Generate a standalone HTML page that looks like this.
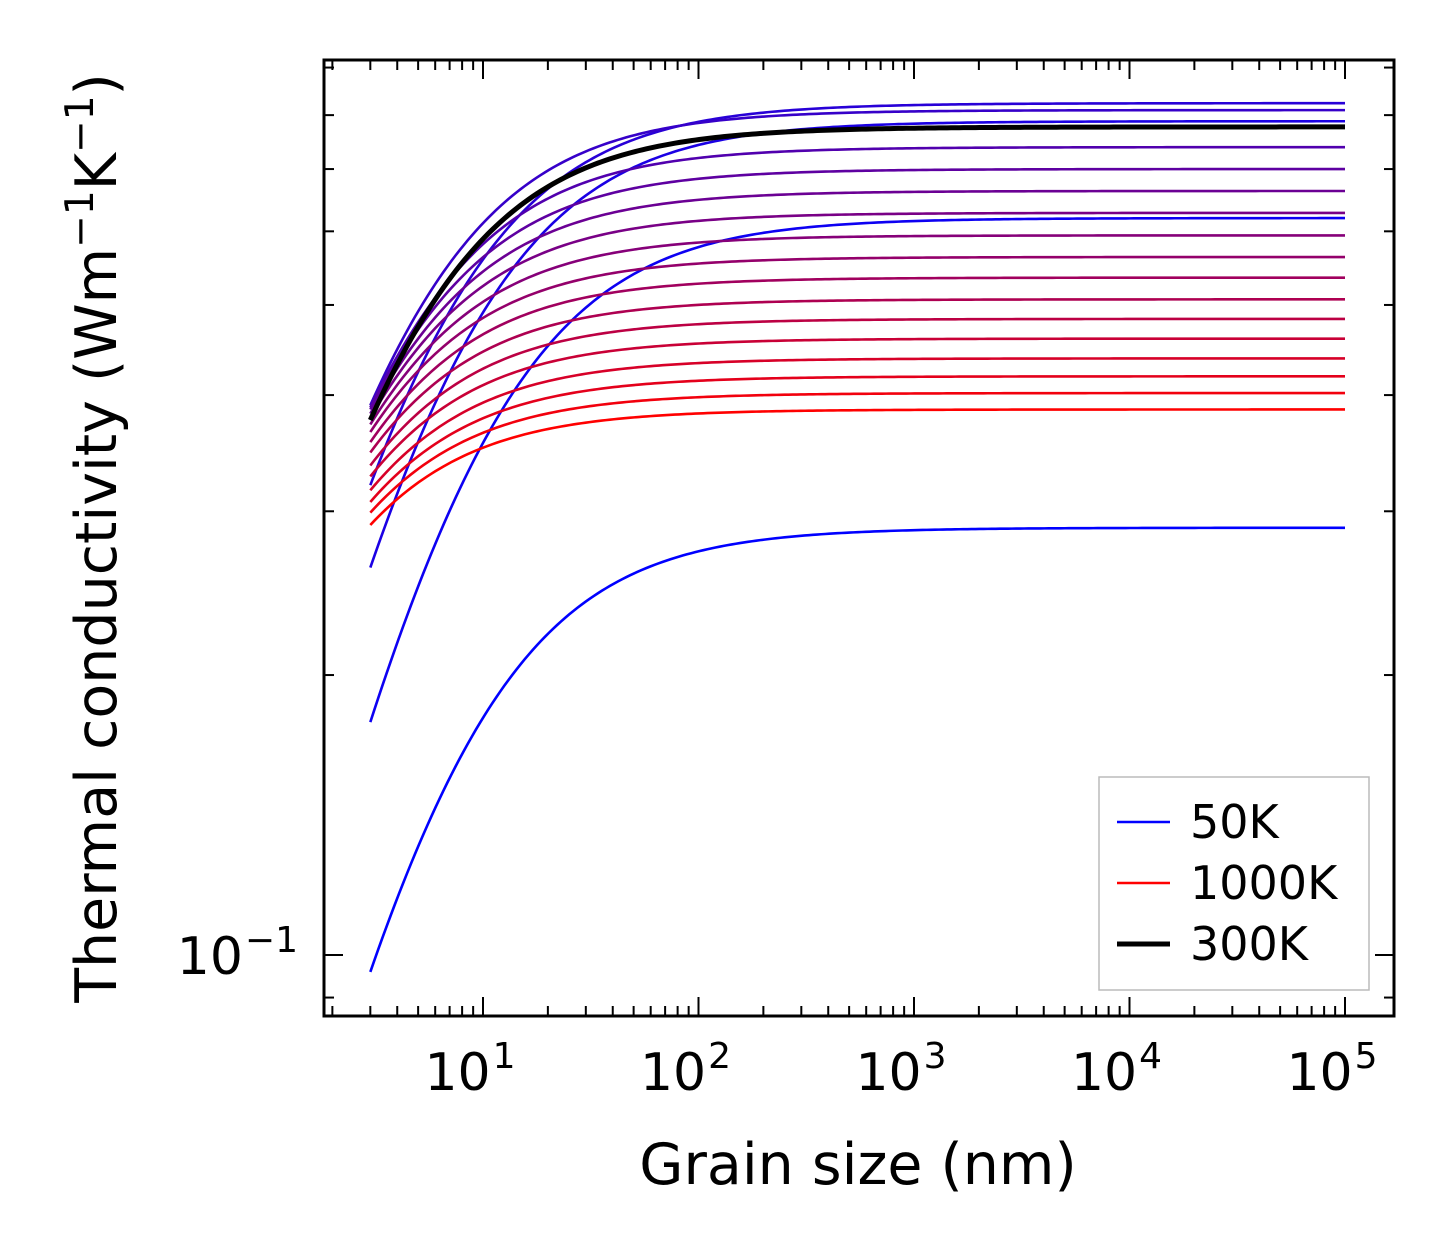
<!DOCTYPE html>
<html><head><meta charset="utf-8"><style>
html,body{margin:0;padding:0;background:#fff;}
svg{display:block;font-family:"DejaVu Sans","Liberation Sans",sans-serif;}
</style></head><body>
<svg id="chart" width="1454" height="1254" viewBox="0 0 1454 1254" xmlns="http://www.w3.org/2000/svg">
<rect width="1454" height="1254" fill="#fff"/>
<g id="lines"></g>
<g id="axes"></g>
<text x="858" y="1184" font-size="57" text-anchor="middle">Grain size (nm)</text>
<text transform="translate(116,538) rotate(-90)" font-size="57" text-anchor="middle">Thermal conductivity (Wm<tspan font-size="39" dy="-23">−1</tspan><tspan dy="23">K</tspan><tspan font-size="39" dy="-23">−1</tspan><tspan dy="23">)</tspan></text>
<g>
<rect x="1099" y="777" width="270" height="213" fill="#fff" stroke="#bbb" stroke-width="1.5"/>
<line x1="1117" y1="822" x2="1170" y2="822" stroke="#0000ff" stroke-width="2.5"/>
<text x="1190" y="838" font-size="46">50K</text>
<line x1="1117" y1="883" x2="1170" y2="883" stroke="#ff0000" stroke-width="2.5"/>
<text x="1190" y="899" font-size="46">1000K</text>
<line x1="1117" y1="944" x2="1170" y2="944" stroke="#000" stroke-width="5"/>
<text x="1190" y="960" font-size="46">300K</text>
</g>
</svg>
<script>
const temps = [50,100,150,200,250,300,350,400,450,500,550,600,650,700,750,800,850,900,950,1000];
const kBulk = [0.288,0.620,0.788,0.824,0.810,0.777,0.739,0.700,0.663,0.628,0.594,0.563,0.535,0.507,0.483,0.460,0.438,0.419,0.402,0.386];
const kAt3nm = [0.0959,0.178,0.261,0.320,0.390,0.376,0.388,0.386,0.382,0.378,0.372,0.365,0.356,0.347,0.336,0.327,0.316,0.307,0.299,0.290];
const xTickLabels = ["1","2","3","4","5"];
const highlightT = 300;

const X0=483, DX=215.5, Y0=955, DY=930;
const L=324, R=1394, T=60, B=1016;
function sx(v){return X0+(Math.log10(v)-1)*DX;}
function sy(v){return Y0-(Math.log10(v)+1)*DY;}
const NS="http://www.w3.org/2000/svg";
function mk(tag,attrs,parent){const e=document.createElementNS(NS,tag);for(const k in attrs)e.setAttribute(k,attrs[k]);parent.appendChild(e);return e;}

const lines=document.getElementById('lines');
function curvePath(i){
  const kinf=kBulk[i], k3=kAt3nm[i];
  const Lc=3*(kinf/k3-1);
  let d="";
  for(let j=0;j<=240;j++){
    const lg=Math.log10(3)+(5-Math.log10(3))*j/240;
    const Lv=Math.pow(10,lg);
    const k=kinf/(1+Lc/Lv);
    d+=(j?"L":"M")+sx(Lv).toFixed(2)+","+sy(k).toFixed(2);
  }
  return d;
}
temps.forEach((t,i)=>{
  const f=(t-50)/950;
  const col=`rgb(${Math.round(255*f)},0,${Math.round(255*(1-f))})`;
  const p=mk('path',{d:curvePath(i),fill:'none',stroke:col,'stroke-width':2.6},lines);
  
  
});
const hi=temps.indexOf(highlightT);
const hp=mk('path',{d:curvePath(hi),fill:'none',stroke:'#000','stroke-width':5},lines);



const axes=document.getElementById('axes');
for(let dec=0;dec<=5;dec++){
  for(let m=1;m<=9;m++){
    const v=m*Math.pow(10,dec);
    const x=sx(v);
    if(x<L+2||x>R-2)continue;
    const len=m===1?19:10;
    mk('line',{x1:x,y1:B,x2:x,y2:B-len,stroke:'#000','stroke-width':2},axes);
    mk('line',{x1:x,y1:T,x2:x,y2:T+len,stroke:'#000','stroke-width':2},axes);
  }
}
xTickLabels.forEach(e=>{
  const x=sx(Math.pow(10,+e));
  const t=mk('text',{x:x-13,y:1090,'font-size':52,'text-anchor':'middle'},axes);
  
  
  t.textContent="10";
  const s=mk('tspan',{'font-size':36,dx:2,dy:-22},t);
  s.textContent=e;
});
const yMinor=[0.09,0.2,0.3,0.4,0.5,0.6,0.7,0.8,0.9];
yMinor.forEach(v=>{
  const y=sy(v);
  if(y<T+2||y>B-2)return;
  mk('line',{x1:L,y1:y,x2:L+10,y2:y,stroke:'#000','stroke-width':2},axes);
  mk('line',{x1:R,y1:y,x2:R-10,y2:y,stroke:'#000','stroke-width':2},axes);
});
{
  const y=sy(0.1);
  mk('line',{x1:L,y1:y,x2:L+19,y2:y,stroke:'#000','stroke-width':2},axes);
  mk('line',{x1:R,y1:y,x2:R-19,y2:y,stroke:'#000','stroke-width':2},axes);
  const t=mk('text',{x:298,y:y+19,'font-size':52,'text-anchor':'end'},axes);
  
  
  t.textContent="10";
  const s=mk('tspan',{'font-size':36,dx:2,dy:-22},t);
  s.textContent="−1";
}
const fr=mk('rect',{x:L,y:T,width:R-L,height:B-T,fill:'none',stroke:'#000','stroke-width':3},axes);


</script>
</body></html>
